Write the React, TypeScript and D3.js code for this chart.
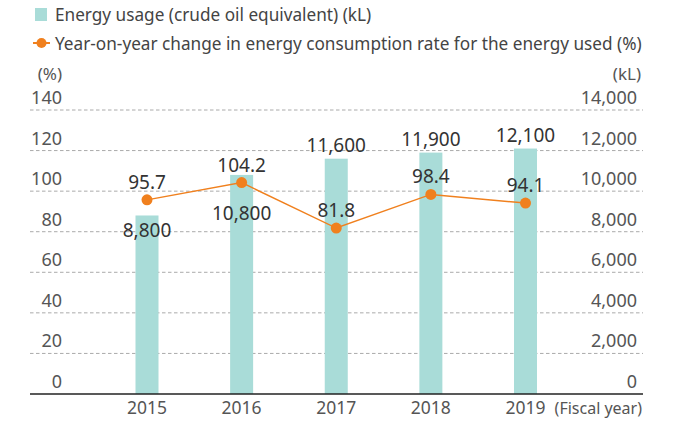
import React from "react";
import * as d3 from "d3";

const years = ["2015", "2016", "2017", "2018", "2019"];
const energyUsage = [8800, 10800, 11600, 11900, 12100];
const yoyRate = [95.7, 104.2, 81.8, 98.4, 94.1];
const leftTicks = [0, 20, 40, 60, 80, 100, 120, 140];
const rightTicks = [0, 2000, 4000, 6000, 8000, 10000, 12000, 14000];
const barLabelPlacement = ["belowLine", "belowLine", "above", "above", "above"];

const W = 678;
const H = 424;
const FONT = "'Noto Sans', sans-serif";
const BAR_COLOR = "#a9dcd8";
const LINE_COLOR = "#f0801e";

export default function App() {
  const x0 = 30, x1 = 643;
  const yBase = 394, yTop = 110;
  const x = d3.scalePoint<string>().domain(years).range([147, 525.5]);
  const yL = d3.scaleLinear().domain([0, 140]).range([yBase, yTop]);
  const yR = d3.scaleLinear().domain([0, 14000]).range([yBase, yTop]);
  const barW = 23;
  const fmt = d3.format(",");
  const line = d3
    .line<number>()
    .x((_, i) => x(years[i]) as number)
    .y((d) => yL(d));

  return (
    <svg width={W} height={H} style={{ position: "absolute", left: 0, top: 0 }} fontFamily={FONT}>
      <rect width={W} height={H} fill="#fff" />
      {/* legend */}
      <rect x={35} y={8} width={12} height={13} fill={BAR_COLOR} />
      <text x={55} y={21} fontSize={17.2} fill="#444">Energy usage (crude oil equivalent) (kL)</text>
      <line x1={33} x2={50} y1={43} y2={43} stroke={LINE_COLOR} strokeWidth={2} />
      <circle cx={41.5} cy={43} r={5} fill={LINE_COLOR} />
      <text x={55} y={50} fontSize={17.2} fill="#444">Year-on-year change in energy consumption rate for the energy used (%)</text>

      {/* unit labels */}
      <text x={62} y={80} fontSize={17} fill="#555" textAnchor="end">(%)</text>
      <text x={641} y={80} fontSize={17} fill="#555" textAnchor="end">(kL)</text>

      {/* gridlines */}
      {leftTicks.slice(1).map((t) => (
        <line key={t} x1={x0} x2={x1} y1={yL(t)} y2={yL(t)} stroke="#aaa" strokeDasharray="3.5,2.5" strokeWidth={1} />
      ))}
      {leftTicks.map((t) => (
        <text key={t} x={62} y={yL(t) - 6} fontSize={18} fill="#555" textAnchor="end">{t}</text>
      ))}
      {rightTicks.map((t) => (
        <text key={t} x={637} y={yR(t) - 6} fontSize={18} fill="#555" textAnchor="end">{fmt(t)}</text>
      ))}

      {/* bars */}
      {energyUsage.map((v, i) => (
        <rect key={i} x={(x(years[i]) as number) - barW / 2} y={yR(v)} width={barW} height={yBase - yR(v)} fill={BAR_COLOR} />
      ))}

      {/* axis */}
      <line x1={x0} x2={x1} y1={yBase} y2={yBase} stroke="#222" strokeWidth={1.5} />
      {years.map((yr) => (
        <text key={yr} x={x(yr)} y={414} fontSize={17.5} fill="#555" textAnchor="middle">{yr}</text>
      ))}
      <text x={642} y={414} fontSize={16} fill="#555" textAnchor="end">(Fiscal year)</text>

      {/* line */}
      <path d={line(yoyRate) || ""} fill="none" stroke={LINE_COLOR} strokeWidth={1.5} />
      {yoyRate.map((v, i) => (
        <circle key={i} cx={x(years[i])} cy={yL(v)} r={5.5} fill={LINE_COLOR} />
      ))}

      {/* bar labels */}
      {energyUsage.map((v, i) => {
        const cx = x(years[i]) as number;
        const yy = barLabelPlacement[i] === "above" ? yR(v) - 7 : yL(yoyRate[i]) + 37;
        return (
          <text key={i} x={cx} y={yy} fontSize={19} fill="#333" textAnchor="middle">{fmt(v)}</text>
        );
      })}
      {/* line labels */}
      {yoyRate.map((v, i) => (
        <text key={i} x={x(years[i])} y={yL(v) - 11} fontSize={19} fill="#333" textAnchor="middle">{v.toFixed(1)}</text>
      ))}
    </svg>
  );
}
